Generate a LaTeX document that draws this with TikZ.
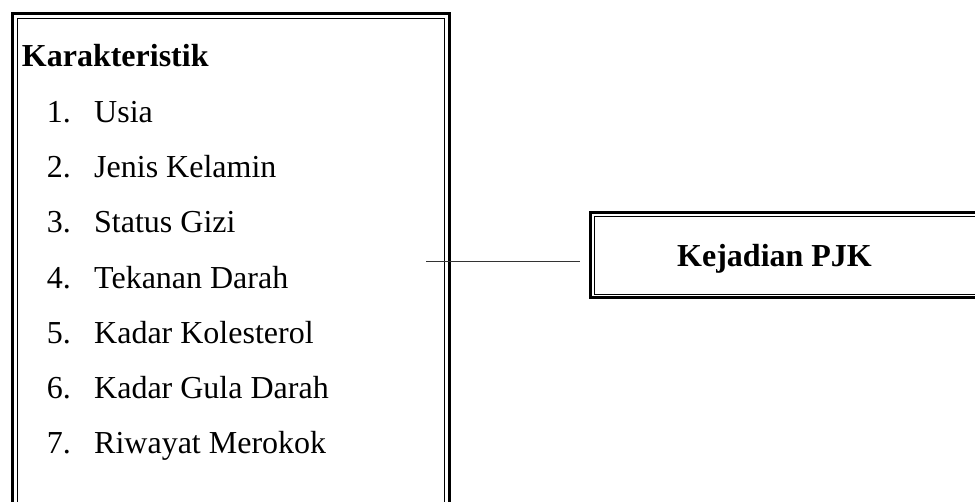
\documentclass[tikz,border=0pt]{standalone}
\usepackage{fontspec}
\setmainfont{Liberation Serif}
\usepackage{tikz}
\usetikzlibrary{positioning,calc}

\begin{document}
\begin{tikzpicture}[x = 1pt, y = -1pt, every node/.style={anchor = base west, inner sep = 0pt, font = \fontsize{32}{38}\selectfont},
  head/.style={font = \fontsize{32}{38}\selectfont\bfseries},
  outerline/.style={draw, line width = 3pt, outer sep = 0pt, anchor = north west},
  innerline/.style={line width = .9pt},
  link/.style={line width = 1.3pt, black!80}]
\useasboundingbox (0,0) rectangle (975,501);
\clip (0,0) rectangle (975,501);
% left frame, runs past the bottom
\node[outerline, minimum width = 437pt, minimum height = 520pt] (kar) at (12,13) {};
\draw[innerline] ([shift={(5,5)}]kar.north west) rectangle ([shift={(-5,-5)}]kar.south east);
\node[head] (title) at (21.7,66.7) {Karakteristik};
\node (n1) at (46.7,122.7) {1.};
\node (n2) at (46.7,177.8) {2.};
\node (n3) at (46.7,232.9) {3.};
\node (n4) at (46.7,288.0) {4.};
\node (n5) at (46.7,343.1) {5.};
\node (n6) at (46.7,398.2) {6.};
\node (n7) at (46.7,453.3) {7.};
\node (usia) at (94,122.7) {Usia};
\node (jk) at (94,177.8) {Jenis Kelamin};
\node (gizi) at (94,232.9) {Status Gizi};
\node (td) at (94,288.0) {Tekanan Darah};
\node (kol) at (94,343.1) {Kadar Kolesterol};
\node (gula) at (94,398.2) {Kadar Gula Darah};
\node (rokok) at (94,453.3) {Riwayat Merokok};
% right frame, runs past the right edge
\node[outerline, minimum width = 410pt, minimum height = 84.8pt] (pjkbox) at (590,212.7) {};
\draw[innerline] ([shift={(4,4)}]pjkbox.north west) rectangle ([shift={(-4,-3.5)}]pjkbox.south east);
\node[head] (pjk) at (677,266) {Kejadian PJK};
% connector
\coordinate (lstart) at (426,261.7);
\coordinate (lend) at ([xshift=-10pt]pjkbox.west);
\draw[link] (lstart) -- (lstart -| lend);
\end{tikzpicture}
\end{document}
